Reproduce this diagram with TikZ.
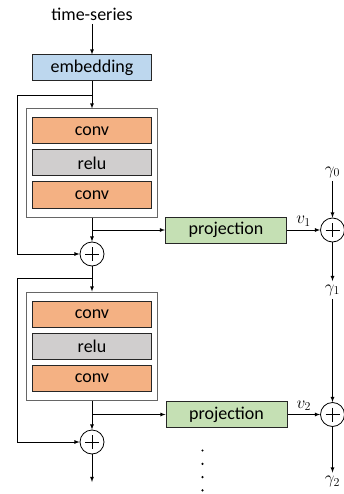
\documentclass[tikz,border=0pt]{standalone}
\usepackage{amsmath}
\usepackage{fontspec}
\setmainfont{Carlito}
\usepackage{tikz}
\usetikzlibrary{positioning,calc,arrows}

\definecolor{embblue}{RGB}{189,215,238}
\definecolor{convorange}{RGB}{244,177,131}
\definecolor{relugray}{RGB}{208,206,206}
\definecolor{projgreen}{RGB}{197,224,180}

\tikzset{
  layer/.style={draw=black!85, line width=1pt, minimum width=119pt, minimum height=26pt, inner sep=0pt},
  block/.style={draw=black!60, line width=1pt, fill=white, minimum width=131pt, minimum height=108pt},
  sum/.style={circle, draw, line width=0.8pt, minimum size=24pt, inner sep=0pt,
    path picture={\draw[line width=0.8pt]
      ([yshift=-5pt]path picture bounding box.north) -- ([yshift=5pt]path picture bounding box.south)
      ([xshift=5pt]path picture bounding box.west) -- ([xshift=-5pt]path picture bounding box.east);}},
  wire/.style={-latex, line width=0.8pt},
}

\begin{document}
\begin{tikzpicture}[font=\fontsize{18}{21.6}\selectfont]
\useasboundingbox (0pt,0pt) rectangle (344pt,-494pt);
\node at (92pt,-14pt) (ts) {time-series};
\node [layer, fill=embblue, below of=ts, node distance=54pt] (emb) {embedding};
\coordinate [below of=emb, node distance=27pt] (split1);
% first residual block
\node [block, below of=emb, node distance=95pt] (grp1) {};
\node [layer, fill=relugray] at (grp1) (relu1) {relu};
\node [layer, fill=convorange, above of=relu1, node distance=32pt] (conv1a) {conv};
\node [layer, fill=convorange, below of=relu1, node distance=32pt] (conv1b) {conv};
\node [sum, below of=grp1, node distance=91pt] (plus1) {};
\coordinate [below of=plus1, node distance=24pt] (split2);
% second residual block
\node [block, below of=plus1, node distance=92pt] (grp2) {};
\node [layer, fill=relugray] at (grp2) (relu2) {relu};
\node [layer, fill=convorange, above of=relu2, node distance=32pt] (conv2a) {conv};
\node [layer, fill=convorange, below of=relu2, node distance=32pt] (conv2b) {conv};
\node [sum, below of=grp2, node distance=96pt] (plus2) {};
\coordinate [below of=plus2, node distance=40pt] (out);
% projections
\node [layer, fill=projgreen, minimum width=121pt, right of=grp1, yshift=-67pt, node distance=134pt] (proj1) {projection};
\node [sum, right of=proj1, node distance=106.5pt] (sum1) {};
\node [layer, fill=projgreen, minimum width=121pt, right of=grp2, yshift=-68.5pt, node distance=134.5pt] (proj2) {projection};
\node [sum, right of=proj2, node distance=106pt] (sum2) {};
\node [above of=sum1, node distance=58pt] (g0) {$\gamma_0$};
\node [below of=sum1, node distance=60pt] (g1) {$\gamma_1$};
\node [below of=sum2, node distance=67pt] (g2) {$\gamma_2$};
\coordinate [below of=proj2, xshift=-24pt, node distance=36pt] (vdots);
\foreach \i in {0,...,3}
  \fill (vdots) ++(0pt,-13.3pt*\i) circle (1.2pt);
\draw[wire] (ts) -- (emb);
\draw[wire] (emb) -- (grp1);
\draw[wire] (split1) -- ++(-75pt,0) |- (plus1.west);
\draw[wire] (grp1) -- (plus1);
\draw[wire] (proj1.west -| grp1.south) -- (proj1.west);
\draw[wire] (plus1) -- (grp2);
\draw[wire] (split2) -- ++(-75pt,0) |- (plus2.west);
\draw[wire] (grp2) -- (plus2);
\draw[wire] (proj2.west -| grp2.south) -- (proj2.west);
\draw[wire] (plus2) -- (out);
\draw[wire] (proj1) -- node[above] (v1) {$v_1$} (sum1);
\draw[wire] (proj2) -- node[above] (v2) {$v_2$} (sum2);
\draw[wire] (g0) -- (sum1);
\draw[wire] (sum1) -- (g1);
\draw[wire] (g1) -- (sum2);
\draw[wire] (sum2) -- (g2);
\end{tikzpicture}
\end{document}
